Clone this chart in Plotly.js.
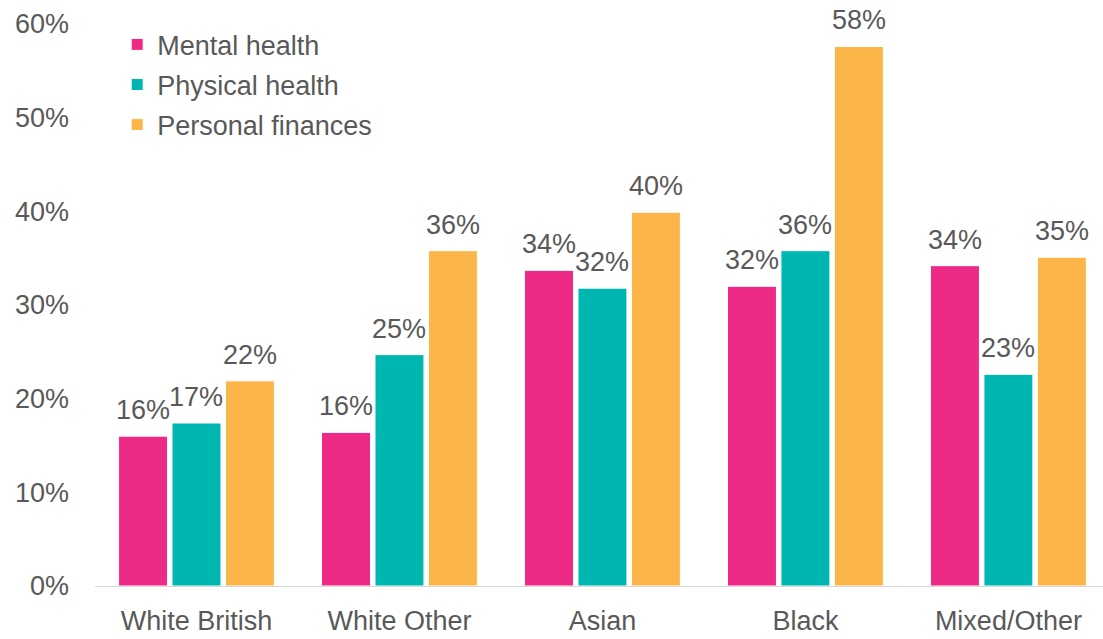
<!DOCTYPE html>
<html>
<head>
<meta charset="utf-8">
<script src="https://cdn.plot.ly/plotly-3.0.1.min.js"></script>
<style>html,body{margin:0;padding:0;background:#fff;}#chart{width:1103px;height:639px;}</style>
</head>
<body>
<div id="chart"></div>
<script>
const categories = ["White British", "White Other", "Asian", "Black", "Mixed/Other"];
const mentalHealth = [16.0, 16.4, 33.7, 32.0, 34.2];
const physicalHealth = [17.4, 24.7, 31.8, 35.8, 22.6];
const personalFinances = [21.9, 35.8, 39.9, 57.6, 35.1];
const seriesNames = ["Mental health", "Physical health", "Personal finances"];
const seriesColors = ["#EE2A87", "#00B6B1", "#FBB548"];
const tickVals = [0, 10, 20, 30, 40, 50, 60];
const tickText = ["0%", "10%", "20%", "30%", "40%", "50%", "60%"];

const font = {family: "Liberation Sans, Arial, sans-serif", size: 27, color: "#595959"};
const allSeries = [mentalHealth, physicalHealth, personalFinances];
const bargap = 0.21;
const xRange = [-0.5, 4.466];
const plotW = 1008;
const catPx = plotW / (xRange[1] - xRange[0]);
const stepPx = catPx * (1 - bargap) / allSeries.length;

const traces = allSeries.map((vals, i) => ({
  type: "bar",
  name: seriesNames[i],
  x: categories,
  y: vals,
  legendgroup: "g" + i,
  marker: {color: seriesColors[i], line: {color: "#ffffff", width: 1}},
  hoverinfo: "none"
}));

const annotations = [];
allSeries.forEach((vals, i) => {
  vals.forEach((v, j) => {
    annotations.push({
      x: categories[j], y: v, xref: "x", yref: "y",
      xshift: (i - 1) * stepPx, yshift: 9,
      text: Math.round(v) + "%", showarrow: false,
      xanchor: "center", yanchor: "bottom", font: font
    });
  });
});

const layout = {
  width: 1103, height: 639,
  margin: {l: 95, r: 0, t: 24, b: 53},
  paper_bgcolor: "#ffffff", plot_bgcolor: "#ffffff",
  font: font,
  barmode: "group",
  bargap: bargap,
  bargroupgap: 0.084,
  showlegend: true,
  legend: {x: 0.022, y: 1.0065, xanchor: "left", yanchor: "top", bgcolor: "rgba(0,0,0,0)",
           font: font, tracegroupgap: 2, traceorder: "grouped"},
  annotations: annotations,
  xaxis: {range: xRange, showline: true, linecolor: "#D9D9D9", linewidth: 1,
          ticks: "", showgrid: false, zeroline: false, tickfont: font, ticklabelstandoff: 11, fixedrange: true},
  yaxis: {range: [0, 60], tickvals: tickVals, ticktext: tickText, showgrid: false,
          zeroline: false, showline: false, ticks: "", tickfont: font, ticklabelstandoff: 25, fixedrange: true}
};

Plotly.newPlot("chart", traces, layout, {displayModeBar: false, staticPlot: true});
</script>
</body>
</html>
